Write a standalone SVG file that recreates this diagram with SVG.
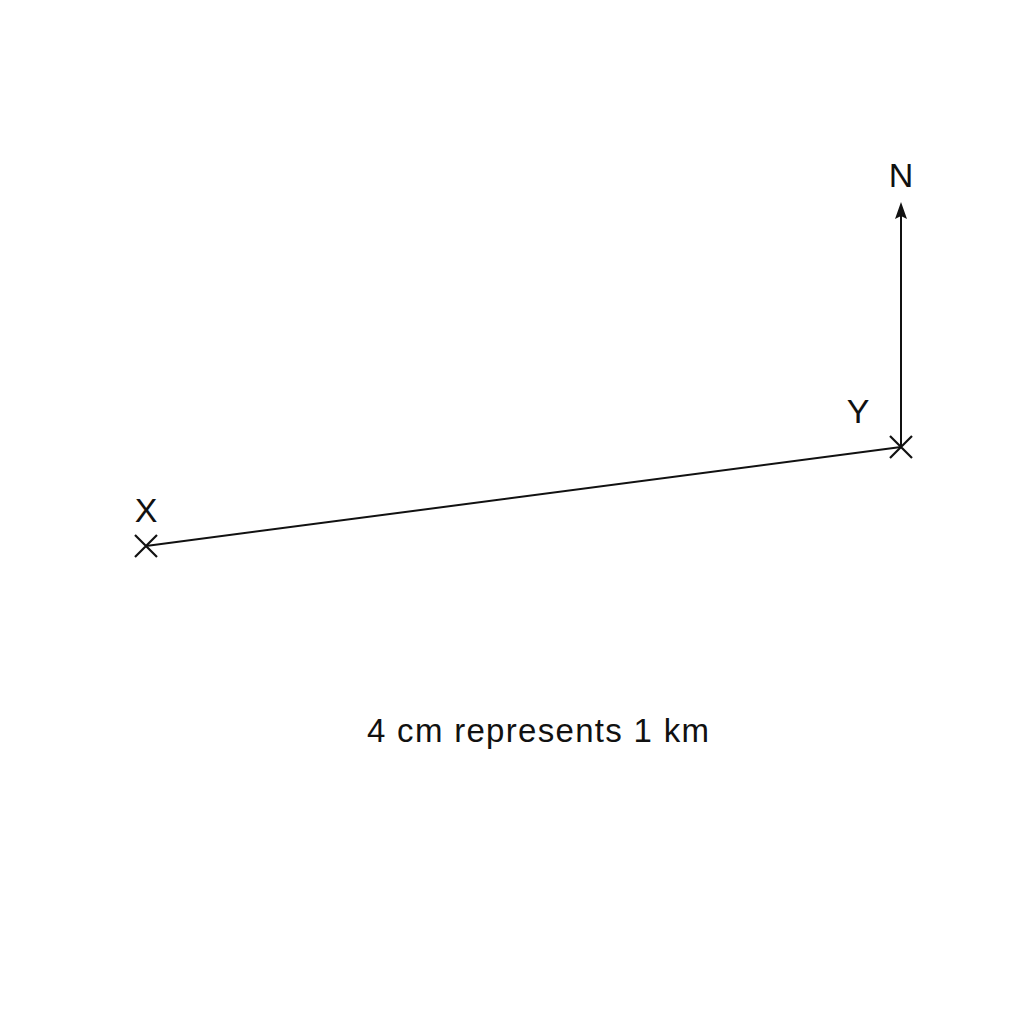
<svg xmlns="http://www.w3.org/2000/svg" width="1024" height="1024" viewBox="0 0 1024 1024">
<style>
.ln{stroke:#111;stroke-width:2;fill:none}
.cr{stroke:#111;stroke-width:2.2;fill:none}
.lb{font-family:"Liberation Sans",Arial,sans-serif;font-size:34px;fill:#111;text-anchor:middle}
.cap{font-family:"Liberation Sans",Arial,sans-serif;font-size:33px;fill:#111;letter-spacing:1.3px}
</style>
<rect width="1024" height="1024" fill="#fff"/>
<g id="connectors">
<line class="ln" x1="146" y1="546" x2="901" y2="447"/>
<line class="ln" x1="901" y1="447" x2="901" y2="216"/>
<path d="M901 202 L907 219 L901 216 L895 219 Z" fill="#111"/>
</g>
<g id="pointX">
<path class="cr" d="M135 535 L157 557 M157 535 L135 557"/>
<text class="lb" x="146" y="522">X</text>
</g>
<g id="pointY">
<path class="cr" d="M890 436 L912 458 M912 436 L890 458"/>
<text class="lb" x="858" y="423">Y</text>
</g>
<g id="north">
<text class="lb" x="901" y="187">N</text>
</g>
<g id="scale">
<text class="cap" x="367" y="742">4 cm represents 1 km</text>
</g>
</svg>
